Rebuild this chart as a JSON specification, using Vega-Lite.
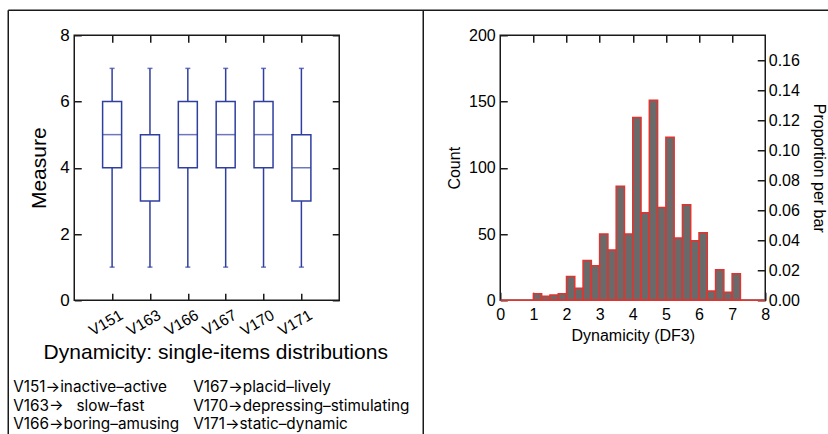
{
  "$schema": "https://vega.github.io/schema/vega-lite/v6.json",
  "autosize": {"type": "pad"},
  "padding": {"left": 6.25, "top": 8.25, "right": 0, "bottom": 0},
  "background": "white",
  "config": {
    "font": "Liberation Sans",
    "view": {"stroke": "#1a1a1a", "strokeWidth": 1.5},
    "axis": {
      "domain": false, "grid": false,
      "labelFont": "Liberation Sans", "titleFont": "Liberation Sans",
      "labelColor": "#000", "titleColor": "#000",
      "tickColor": "#1a1a1a", "tickWidth": 1.5,
      "titleFontWeight": "normal",
      "labelFlush": false, "labelOverlap": false
    }
  },
  "datasets": {
    "items": [
      {"item": "V151", "min": 1, "q1": 4, "median": 5, "q3": 6, "max": 7},
      {"item": "V163", "min": 1, "q1": 3, "median": 4, "q3": 5, "max": 7},
      {"item": "V166", "min": 1, "q1": 4, "median": 5, "q3": 6, "max": 7},
      {"item": "V167", "min": 1, "q1": 4, "median": 5, "q3": 6, "max": 7},
      {"item": "V170", "min": 1, "q1": 4, "median": 5, "q3": 6, "max": 7},
      {"item": "V171", "min": 1, "q1": 3, "median": 4, "q3": 5, "max": 7}
    ],
    "hist": [
      {"bin_start": 1.0, "bin_end": 1.25, "count": 5},
      {"bin_start": 1.25, "bin_end": 1.5, "count": 3},
      {"bin_start": 1.5, "bin_end": 1.75, "count": 4},
      {"bin_start": 1.75, "bin_end": 2.0, "count": 5},
      {"bin_start": 2.0, "bin_end": 2.25, "count": 18},
      {"bin_start": 2.25, "bin_end": 2.5, "count": 9},
      {"bin_start": 2.5, "bin_end": 2.75, "count": 30},
      {"bin_start": 2.75, "bin_end": 3.0, "count": 26},
      {"bin_start": 3.0, "bin_end": 3.25, "count": 50},
      {"bin_start": 3.25, "bin_end": 3.5, "count": 38},
      {"bin_start": 3.5, "bin_end": 3.75, "count": 86},
      {"bin_start": 3.75, "bin_end": 4.0, "count": 50},
      {"bin_start": 4.0, "bin_end": 4.25, "count": 138},
      {"bin_start": 4.25, "bin_end": 4.5, "count": 66},
      {"bin_start": 4.5, "bin_end": 4.75, "count": 151},
      {"bin_start": 4.75, "bin_end": 5.0, "count": 70},
      {"bin_start": 5.0, "bin_end": 5.25, "count": 123},
      {"bin_start": 5.25, "bin_end": 5.5, "count": 47},
      {"bin_start": 5.5, "bin_end": 5.75, "count": 72},
      {"bin_start": 5.75, "bin_end": 6.0, "count": 45},
      {"bin_start": 6.0, "bin_end": 6.25, "count": 51},
      {"bin_start": 6.25, "bin_end": 6.5, "count": 7},
      {"bin_start": 6.5, "bin_end": 6.75, "count": 23},
      {"bin_start": 6.75, "bin_end": 7.0, "count": 6},
      {"bin_start": 7.0, "bin_end": 7.25, "count": 20}
    ]
  },
  "bounds": "flush",
  "spacing": 161,
  "hconcat": [
    {
      "width": 265,
      "height": 265,
      "data": {"name": "items"},
      "layer": [
        {
          "mark": {"type": "rule", "color": "#2f3fa0", "strokeWidth": 1.5},
          "encoding": {
            "x": {"field": "item", "type": "nominal", "scale": {"type": "point", "padding": 1},
              "axis": {"orient": "bottom", "title": "Dynamicity: single-items distributions", "titleFontSize": 21,
                "labelFontSize": 15.5, "labelAngle": -30, "labelAlign": "right", "labelBaseline": "middle",
                "tickSize": -7, "labelPadding": 20, "labelOffset": 9, "titlePadding": 3, "titleX": 141}},
            "y": {"field": "min", "type": "quantitative", "scale": {"domain": [0, 8], "nice": false},
              "axis": {"orient": "left", "title": "Measure", "titleFontSize": 21, "labelFontSize": 17,
                "values": [0, 2, 4, 6, 8], "tickSize": -7, "labelPadding": 12, "titlePadding": 10}},
            "y2": {"field": "max"}
          }
        },
        {
          "mark": {"type": "bar", "fill": "white", "stroke": "#2f3fa0", "strokeWidth": 1.5, "size": 19},
          "encoding": {
            "x": {"field": "item", "type": "nominal", "scale": {"type": "point", "padding": 1}, "axis": null},
            "y": {"field": "q1", "type": "quantitative", "scale": {"domain": [0, 8], "nice": false}, "axis": null},
            "y2": {"field": "q3"}
          }
        },
        {
          "mark": {"type": "tick", "color": "#2f3fa0", "size": 19, "thickness": 1.5},
          "encoding": {
            "x": {"field": "item", "type": "nominal", "scale": {"type": "point", "padding": 1}, "axis": null},
            "y": {"field": "median", "type": "quantitative", "scale": {"domain": [0, 8], "nice": false}, "axis": null}
          }
        },
        {
          "mark": {"type": "tick", "color": "#2f3fa0", "size": 5, "thickness": 1.5},
          "encoding": {
            "x": {"field": "item", "type": "nominal", "scale": {"type": "point", "padding": 1}, "axis": null},
            "y": {"field": "min", "type": "quantitative", "scale": {"domain": [0, 8], "nice": false}, "axis": null}
          }
        },
        {
          "mark": {"type": "tick", "color": "#2f3fa0", "size": 5, "thickness": 1.5},
          "encoding": {
            "x": {"field": "item", "type": "nominal", "scale": {"type": "point", "padding": 1}, "axis": null},
            "y": {"field": "max", "type": "quantitative", "scale": {"domain": [0, 8], "nice": false}, "axis": null}
          }
        },
        {
          "mark": {"type": "point", "opacity": 0},
          "encoding": {
            "x": {"field": "item", "type": "nominal", "scale": {"type": "point", "padding": 1},
              "axis": {"orient": "top", "labels": false, "title": null, "tickSize": -7}},
            "y": {"field": "median", "type": "quantitative", "scale": {"domain": [0, 8], "nice": false},
              "axis": {"orient": "right", "labels": false, "title": null, "tickSize": -7, "values": [0, 2, 4, 6, 8]}}
          }
        },
        {
          "data": {"values": [{}]},
          "mark": {"type": "rule", "color": "#1a1a1a", "strokeWidth": 1.5},
          "encoding": {"x": {"value": -66}, "x2": {"value": 760}, "y": {"value": -25}}
        },
        {
          "data": {"values": [{}]},
          "mark": {"type": "rule", "color": "#1a1a1a", "strokeWidth": 1.5},
          "encoding": {"x": {"value": -66}, "y": {"value": -25}, "y2": {"value": 410}}
        },
        {
          "data": {"values": [{}]},
          "mark": {"type": "rule", "color": "#1a1a1a", "strokeWidth": 1.5},
          "encoding": {"x": {"value": 349}, "y": {"value": -25}, "y2": {"value": 410}}
        },
        {
          "data": {"values": [{"lines": ["V151→inactive–active", "V163→\u00a0\u00a0\u00a0slow–fast", "V166→boring–amusing"]}]},
          "mark": {"type": "text", "align": "left", "baseline": "top", "font": "Inter", "fontSize": 15.3, "lineHeight": 18.5, "color": "#000"},
          "encoding": {"text": {"field": "lines"}, "x": {"value": -61}, "y": {"value": 345}}
        },
        {
          "data": {"values": [{"lines": ["V167→placid–lively", "V170→depressing–stimulating", "V171→static–dynamic"]}]},
          "mark": {"type": "text", "align": "left", "baseline": "top", "font": "Inter", "fontSize": 15.3, "lineHeight": 18.5, "color": "#000"},
          "encoding": {"text": {"field": "lines"}, "x": {"value": 119}, "y": {"value": 345}}
        }
      ],
      "resolve": {"axis": {"x": "independent", "y": "independent"}}
    },
    {
      "width": 265,
      "height": 265,
      "layer": [
        {
          "data": {"name": "hist"},
          "mark": {"type": "bar", "fill": "#6a6a6a", "stroke": "#e3332f", "strokeWidth": 1.5},
          "encoding": {
            "x": {"field": "bin_start", "type": "quantitative", "scale": {"domain": [0, 8], "nice": false},
              "axis": {"orient": "bottom", "values": [0, 1, 2, 3, 4, 5, 6, 7, 8], "tickSize": -8, "labelFontSize": 16,
                "title": "Dynamicity (DF3)", "titleFontSize": 16, "labelPadding": 14, "titlePadding": 5}},
            "x2": {"field": "bin_end"},
            "y": {"field": "count", "type": "quantitative", "scale": {"domain": [0, 200], "nice": false},
              "axis": {"orient": "left", "values": [0, 50, 100, 150, 200], "tickSize": -7, "labelFontSize": 16,
                "title": "Count", "titleFontSize": 16, "labelPadding": 12, "titlePadding": 6}},
            "y2": {"datum": 0}
          }
        },
        {
          "data": {"values": [{}]},
          "mark": {"type": "rule", "color": "#e3332f", "strokeWidth": 1.5},
          "encoding": {
            "x": {"datum": 0, "type": "quantitative", "scale": {"domain": [0, 8], "nice": false}, "axis": null},
            "x2": {"datum": 8},
            "y": {"datum": 0, "type": "quantitative", "scale": {"domain": [0, 200], "nice": false}, "axis": null}
          }
        },
        {
          "data": {"values": [{}]},
          "mark": {"type": "point", "opacity": 0},
          "encoding": {
            "x": {"datum": 0, "type": "quantitative", "scale": {"domain": [0, 8], "nice": false},
              "axis": {"orient": "top", "values": [1, 2, 3, 4, 5, 6, 7], "labels": false, "title": null, "tickSize": -7}}
          }
        },
        {
          "data": {"values": [{}]},
          "mark": {"type": "point", "opacity": 0},
          "encoding": {
            "y": {"datum": 0, "type": "quantitative", "scale": {"domain": [0, 0.177], "nice": false},
              "axis": {"orient": "right", "values": [0, 0.02, 0.04, 0.06, 0.08, 0.1, 0.12, 0.14, 0.16], "format": ".2f",
                "tickSize": -8, "labelFontSize": 16, "labelPadding": 11, "title": "Proportion per bar",
                "titleFontSize": 16, "titlePadding": 11}}
          }
        }
      ],
      "resolve": {"scale": {"y": "independent"}, "axis": {"x": "independent", "y": "independent"}}
    }
  ]
}
